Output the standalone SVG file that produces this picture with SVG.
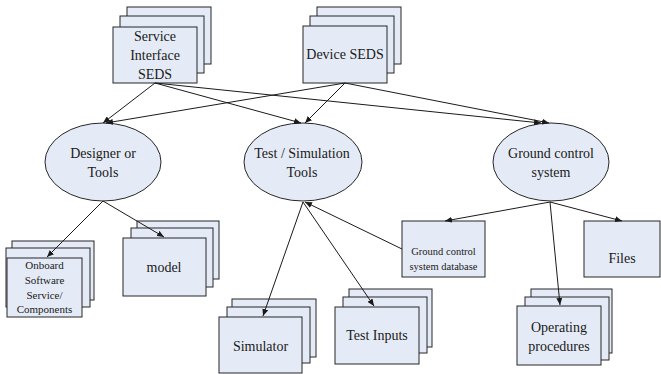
<svg xmlns="http://www.w3.org/2000/svg" width="661" height="374" viewBox="0 0 661 374">
<style>
.b{fill:#E5EBF6;stroke:#262626;stroke-width:1}
.t{font-family:"Liberation Serif","Times New Roman",serif;font-size:14px;fill:#1a1a1a;text-anchor:middle}
.s{font-size:10.5px}
.m{font-size:11px}
</style>
<defs>
<marker id="ah" markerWidth="7" markerHeight="6" refX="7" refY="3" orient="auto" markerUnits="userSpaceOnUse">
<path d="M0,0 L7,3 L0,6 Z" fill="#1a1a1a"/>
</marker>
</defs>
<rect width="661" height="374" fill="#ffffff"/>

<g id="service-interface-seds">
<rect class="b" x="127" y="7" width="84" height="57"/>
<rect class="b" x="120" y="16" width="84" height="57"/>
<rect class="b" x="113" y="27" width="84" height="56"/>
<text class="t" x="155" y="41">Service</text>
<text class="t" x="155" y="60">Interface</text>
<text class="t" x="155" y="79">SEDS</text>
</g>

<g id="device-seds">
<rect class="b" x="317" y="7" width="84" height="57"/>
<rect class="b" x="310" y="16" width="84" height="57"/>
<rect class="b" x="303" y="26" width="84" height="57"/>
<text class="t" x="345" y="59">Device SEDS</text>
</g>

<g id="designer-tools">
<ellipse class="b" cx="103" cy="162" rx="58" ry="39"/>
<text class="t" x="103" y="158">Designer or</text>
<text class="t" x="103" y="177">Tools</text>
</g>

<g id="test-simulation-tools">
<ellipse class="b" cx="303" cy="162" rx="59" ry="39"/>
<text class="t" x="302" y="158">Test / Simulation</text>
<text class="t" x="302" y="177">Tools</text>
</g>

<g id="ground-control-system">
<ellipse class="b" cx="551" cy="162" rx="58" ry="39"/>
<text class="t" x="551" y="158">Ground control</text>
<text class="t" x="551" y="177">system</text>
</g>

<g id="onboard-software">
<rect class="b" x="12" y="241" width="82" height="59"/>
<rect class="b" x="6" y="248" width="84" height="59"/>
<rect class="b" x="7" y="258" width="75" height="59"/>
<text class="t m" x="44.5" y="269">Onboard</text>
<text class="t m" x="44.5" y="284">Software</text>
<text class="t m" x="44.5" y="298.5">Service/</text>
<text class="t m" x="44.5" y="313">Components</text>
</g>

<g id="model">
<rect class="b" x="137" y="221" width="82" height="58"/>
<rect class="b" x="131" y="228" width="82" height="59"/>
<rect class="b" x="123" y="238" width="83" height="58"/>
<text class="t" x="164" y="272">model</text>
</g>

<g id="simulator">
<rect class="b" x="232" y="299" width="84" height="58"/>
<rect class="b" x="227" y="307" width="83" height="56"/>
<rect class="b" x="219" y="317" width="83" height="56"/>
<text class="t" x="260.5" y="351">Simulator</text>
</g>

<g id="test-inputs">
<rect class="b" x="349" y="289" width="83" height="58"/>
<rect class="b" x="343" y="297" width="84" height="56"/>
<rect class="b" x="335" y="307" width="84" height="57"/>
<text class="t" x="377" y="340">Test Inputs</text>
</g>

<g id="ground-control-system-database">
<rect class="b" x="402" y="221" width="83" height="56"/>
<text class="t s" x="443.5" y="255">Ground control</text>
<text class="t s" x="443.5" y="270">system database</text>
</g>

<g id="files">
<rect class="b" x="584" y="221" width="76" height="56"/>
<text class="t" x="622" y="263" font-size="16">Files</text>
</g>

<g id="operating-procedures">
<rect class="b" x="531" y="289" width="81" height="64"/>
<rect class="b" x="525" y="297" width="84" height="63"/>
<rect class="b" x="517" y="306" width="84" height="59"/>
<text class="t" x="559" y="332" font-size="15">Operating</text>
<text class="t" x="559" y="351" font-size="15">procedures</text>
</g>

<g id="connectors" stroke="#1a1a1a" stroke-width="1" fill="none">
<line marker-end="url(#ah)" x1="155" y1="83" x2="103" y2="123"/>
<line marker-end="url(#ah)" x1="155" y1="83" x2="301" y2="123"/>
<line marker-end="url(#ah)" x1="155" y1="83" x2="541" y2="123"/>
<line marker-end="url(#ah)" x1="345" y1="83" x2="106" y2="123"/>
<line marker-end="url(#ah)" x1="345" y1="83" x2="305" y2="123"/>
<line marker-end="url(#ah)" x1="345" y1="83" x2="549" y2="123"/>
<line marker-end="url(#ah)" x1="103" y1="201" x2="47" y2="257"/>
<line marker-end="url(#ah)" x1="103" y1="201" x2="164" y2="237"/>
<line marker-end="url(#ah)" x1="303" y1="202" x2="263" y2="316"/>
<line marker-end="url(#ah)" x1="303" y1="202" x2="374" y2="306"/>
<line marker-end="url(#ah)" x1="402" y1="249" x2="305" y2="202"/>
<line marker-end="url(#ah)" x1="550" y1="202" x2="445" y2="221"/>
<line marker-end="url(#ah)" x1="550" y1="202" x2="622" y2="221"/>
<line marker-end="url(#ah)" x1="550" y1="202" x2="560" y2="305"/>
</g>
</svg>
